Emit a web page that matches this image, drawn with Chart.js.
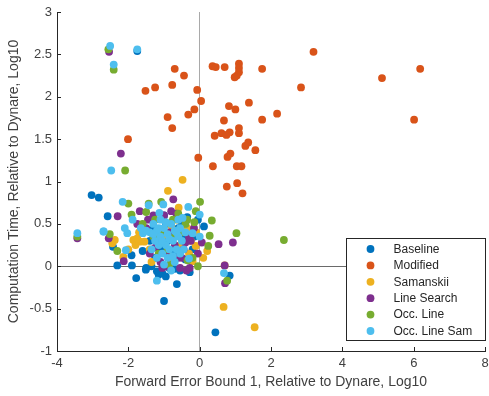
<!DOCTYPE html>
<html>
<head>
<meta charset="utf-8">
<script src="https://cdn.jsdelivr.net/npm/chart.js@4.4.1/dist/chart.umd.min.js"></script>
<style>
html,body{margin:0;padding:0;background:#fff;}
#wrap{width:489px;height:396px;position:relative;}
</style>
</head>
<body>
<div id="wrap"><canvas id="c" width="489" height="396"></canvas></div>
<script>
const seriesNames = ["Baseline","Modified","Samanskii","Line Search","Occ. Line","Occ. Line Sam"];
const seriesColors = ["#0072BD","#D95319","#EDB120","#7E2F8E","#77AC30","#4DBEEE"];
const xTicks = [-4,-2,0,2,4,6,8];
const yTicks = [-1,-0.5,0,0.5,1,1.5,2,2.5,3];
const xTitle = "Forward Error Bound 1, Relative to Dynare, Log10";
const yTitle = "Computation Time, Relative to Dynare, Log10";

const baseline = [[-3.03,0.84],[-2.83,0.81],[-2.58,0.59],[-2.43,0.23],[-2.31,0.01],[-1.90,0.01],[-1.91,0.13],[-1.51,-0.04],[-1.78,-0.14],[-0.64,-0.21],[-1.00,-0.41],[0.44,-0.78],[0.84,-0.11],[0.12,0.47],[-1.50,-0.02],[-1.20,-0.06],[-1.05,-0.08],[-0.85,-0.02],[-0.55,-0.05],[-0.28,-0.07],[-1.75,2.54],[-0.90,0.30],[-1.10,0.20],[-0.70,0.15],[-0.45,0.35],[-1.30,0.45],[-0.95,0.50],[-0.60,0.45],[-1.60,0.18],[-0.20,0.20],[-0.80,0.05],[-1.25,0.10],[-0.40,0.08],[-0.05,0.55],[-1.40,0.30],[-1.15,-0.10],[-0.95,-0.12],[-0.70,-0.03],[-1.35,0.00],[-0.50,0.52],[-0.15,0.35],[-1.00,0.60],[-0.35,0.58]];
const modified = [[-0.70,2.33],[-0.44,2.25],[-1.52,2.07],[-1.25,2.11],[-0.77,2.14],[-0.07,2.08],[0.04,1.95],[-0.15,1.85],[-0.32,1.79],[-0.90,1.76],[-0.77,1.63],[-2.01,1.50],[-0.04,1.28],[0.36,2.36],[0.45,2.35],[0.70,2.35],[1.10,2.39],[1.10,2.34],[1.10,2.29],[1.04,2.25],[0.98,2.23],[1.75,2.33],[0.82,1.89],[1.00,1.85],[1.38,1.93],[2.17,1.80],[0.68,1.72],[1.75,1.73],[0.42,1.54],[0.61,1.57],[0.75,1.55],[0.84,1.58],[1.10,1.63],[1.10,1.57],[1.28,1.42],[1.36,1.46],[1.56,1.37],[0.78,1.29],[0.86,1.33],[0.37,1.18],[1.04,1.18],[1.17,1.18],[0.76,0.94],[1.05,0.98],[1.20,0.86],[3.19,2.53],[5.11,2.22],[6.18,2.33],[2.84,2.11],[6.01,1.73]];
const samanskii = [[-0.48,1.02],[-0.89,0.89],[0.67,-0.48],[1.54,-0.72],[-0.59,0.69],[-2.38,0.31],[-1.86,0.31],[-1.68,0.29],[-2.14,0.11],[-1.55,0.29],[0.21,0.18],[-0.11,0.24],[-0.20,0.06],[-2.45,0.27],[-1.40,0.20],[-1.05,0.35],[-0.75,0.10],[-0.35,0.45],[-0.90,0.15],[-1.20,0.40],[-0.55,0.25],[-0.10,0.40],[-2.00,0.20],[0.70,0.01],[-1.70,0.40],[-0.30,0.15],[-0.65,0.55],[-1.35,0.05],[-1.80,0.25],[0.10,0.10],[-1.75,0.33],[-0.25,0.30],[-0.80,0.48]];
const lineSearch = [[-2.54,2.53],[-2.21,1.33],[-0.74,0.79],[-2.30,0.59],[-3.43,0.33],[-2.13,0.06],[0.53,0.26],[0.93,0.28],[0.70,0.01],[0.71,-0.20],[-0.37,-0.05],[-0.28,-0.02],[0.06,0.28],[-0.16,0.45],[-1.68,0.65],[-0.80,0.65],[-2.55,0.33],[-1.30,0.60],[-1.10,0.05],[-0.95,0.15],[-0.60,0.10],[-1.50,0.45],[-0.85,0.40],[-0.45,0.20],[-1.20,0.30],[-0.70,0.25],[-1.00,0.60],[-0.25,0.30],[-1.75,0.50],[-0.55,-0.02],[-0.05,0.15],[-1.40,0.15],[-0.30,0.35],[-0.40,0.28],[-0.50,0.10],[-1.05,-0.02],[-0.90,0.00],[-1.45,0.55],[-0.65,0.62],[-1.25,0.22]];
const occLine = [[-2.56,2.56],[-2.41,2.32],[-2.09,1.13],[-3.43,0.35],[-2.31,0.18],[1.03,0.39],[2.36,0.31],[0.77,-0.17],[-0.05,0.00],[0.01,0.76],[-0.11,0.65],[0.34,0.54],[0.28,0.36],[0.24,0.24],[-0.34,0.07],[-2.00,0.74],[-1.91,0.61],[-2.52,0.38],[-1.43,0.74],[-1.08,0.76],[-1.50,0.64],[-0.60,0.62],[-1.25,0.55],[-0.90,0.20],[-0.50,0.40],[-1.15,0.15],[-0.70,0.35],[-0.35,0.55],[-1.60,0.50],[-0.20,0.10],[-0.85,0.02],[-1.00,0.40],[-0.40,0.50],[-0.15,0.52],[-1.30,0.35],[-0.75,0.55]];
const occLineSam = [[-2.51,2.60],[-1.75,2.56],[-2.41,2.38],[-2.48,1.13],[-3.43,0.39],[-2.69,0.41],[-2.16,0.76],[0.68,-0.08],[-1.20,-0.17],[-0.32,0.70],[0.00,0.61],[0.00,0.35],[-0.20,0.39],[-0.30,0.09],[-1.88,0.55],[-2.70,0.41],[-2.10,0.45],[-2.03,0.39],[-2.07,0.19],[-1.59,0.39],[-1.43,0.72],[-1.02,0.73],[-1.13,0.63],[-0.48,0.57],[-1.30,0.50],[-1.20,0.42],[-1.10,0.35],[-1.00,0.45],[-0.90,0.38],[-0.80,0.50],[-0.70,0.42],[-0.60,0.35],[-1.15,0.25],[-1.05,0.15],[-0.95,0.25],[-0.85,0.20],[-0.75,0.30],[-0.65,0.20],[-0.55,0.45],[-1.25,0.30],[-1.40,0.40],[-0.50,0.30],[-0.90,0.10],[-0.70,0.05],[-1.00,0.02],[-0.80,-0.05],[-1.10,0.55],[-0.60,0.55],[-1.35,0.20],[-0.45,0.20],[-1.20,0.10],[-1.05,0.30],[-0.95,0.52],[-0.85,0.32],[-0.75,0.12],[-0.65,0.40],[-1.15,0.45],[-1.30,0.38],[-0.55,0.15],[-1.50,0.42],[-1.65,0.45],[-0.40,0.40]];

const allSeries = [baseline, modified, samanskii, lineSearch, occLine, occLineSam];

const datasets = allSeries.map((s, i) => ({
  label: seriesNames[i],
  data: s.map(p => ({x: p[0], y: p[1]})),
  backgroundColor: seriesColors[i],
  borderColor: seriesColors[i],
  borderWidth: 0,
  pointRadius: 3.9,
  pointHoverRadius: 3.9,
  order: 6 - i
}));

const FONT = "'Liberation Sans', Arial, sans-serif";
const AX = "#262626";
const TXT = "#404040";

const inwardTicks = {
  id: 'inwardTicks',
  afterDraw(chart) {
    const ctx = chart.ctx, a = chart.chartArea;
    const xs = chart.scales.x, ys = chart.scales.y;
    ctx.save();
    ctx.strokeStyle = AX; ctx.lineWidth = 1;
    ctx.beginPath();
    xTicks.forEach(v => { const px = Math.round(xs.getPixelForValue(v)) + 0.5; ctx.moveTo(px, a.bottom); ctx.lineTo(px, a.bottom - 4); });
    yTicks.forEach(v => { const py = Math.round(ys.getPixelForValue(v)) + 0.5; ctx.moveTo(a.left, py); ctx.lineTo(a.left + 4, py); });
    ctx.stroke();
    ctx.restore();
  }
};

const boxLegend = {
  id: 'boxLegend',
  afterDraw(chart) {
    const ctx = chart.ctx, a = chart.chartArea;
    const w = 139, h = 102;
    const x0 = Math.round(a.right - w) + 0.5, y0 = Math.round(a.bottom - 11 - h) + 0.5;
    ctx.save();
    ctx.fillStyle = '#fff';
    ctx.fillRect(x0, y0, w, h);
    ctx.strokeStyle = AX; ctx.lineWidth = 1;
    ctx.strokeRect(x0, y0, w, h);
    ctx.font = "12px " + FONT;
    ctx.textBaseline = 'middle';
    chart.data.datasets.forEach((ds, i) => {
      const cy = y0 + 10.5 + i * 16.4;
      ctx.fillStyle = ds.backgroundColor;
      ctx.beginPath(); ctx.arc(x0 + 24, cy, 3.9, 0, Math.PI * 2); ctx.fill();
      ctx.fillStyle = AX;
      ctx.fillText(ds.label, x0 + 47, cy + 0.5);
    });
    ctx.restore();
  }
};

new Chart(document.getElementById('c'), {
  type: 'scatter',
  data: { datasets },
  options: {
    responsive: false,
    animation: false,
    devicePixelRatio: 1,
    layout: { padding: { top: 12, right: 3, left: 0, bottom: 0 } },
    plugins: { legend: { display: false }, tooltip: { enabled: false } },
    scales: {
      x: {
        type: 'linear', min: -4, max: 8,
        afterBuildTicks: s => { s.ticks = xTicks.map(v => ({value: v})); },
        afterFit: s => { s.height = 45; s.paddingRight = 0; s.paddingLeft = 0; },
        ticks: { color: TXT, font: { family: FONT, size: 13 }, padding: 5, callback: v => String(v) },
        grid: { drawTicks: false, color: c => (c.tick && c.tick.value === 0) ? '#a9a9a9' : 'rgba(0,0,0,0)', lineWidth: 1 },
        border: { display: true, color: AX, width: 1 },
        title: { display: true, text: xTitle, color: TXT, font: { family: FONT, size: 14 }, padding: { top: 0, bottom: 5 } }
      },
      y: {
        type: 'linear', min: -1, max: 3,
        afterBuildTicks: s => { s.ticks = yTicks.map(v => ({value: v})); },
        afterFit: s => { s.width = 57; s.paddingTop = 0; s.paddingBottom = 0; },
        ticks: { color: TXT, font: { family: FONT, size: 13 }, padding: 5, callback: v => String(v) },
        grid: { drawTicks: false, color: c => (c.tick && c.tick.value === 0) ? '#6a6a6a' : 'rgba(0,0,0,0)', lineWidth: 1 },
        border: { display: true, color: AX, width: 1 },
        title: { display: true, text: yTitle, color: TXT, font: { family: FONT, size: 14 }, padding: { top: 6, bottom: 0 } }
      }
    }
  },
  plugins: [inwardTicks, boxLegend]
});
</script>
</body>
</html>
